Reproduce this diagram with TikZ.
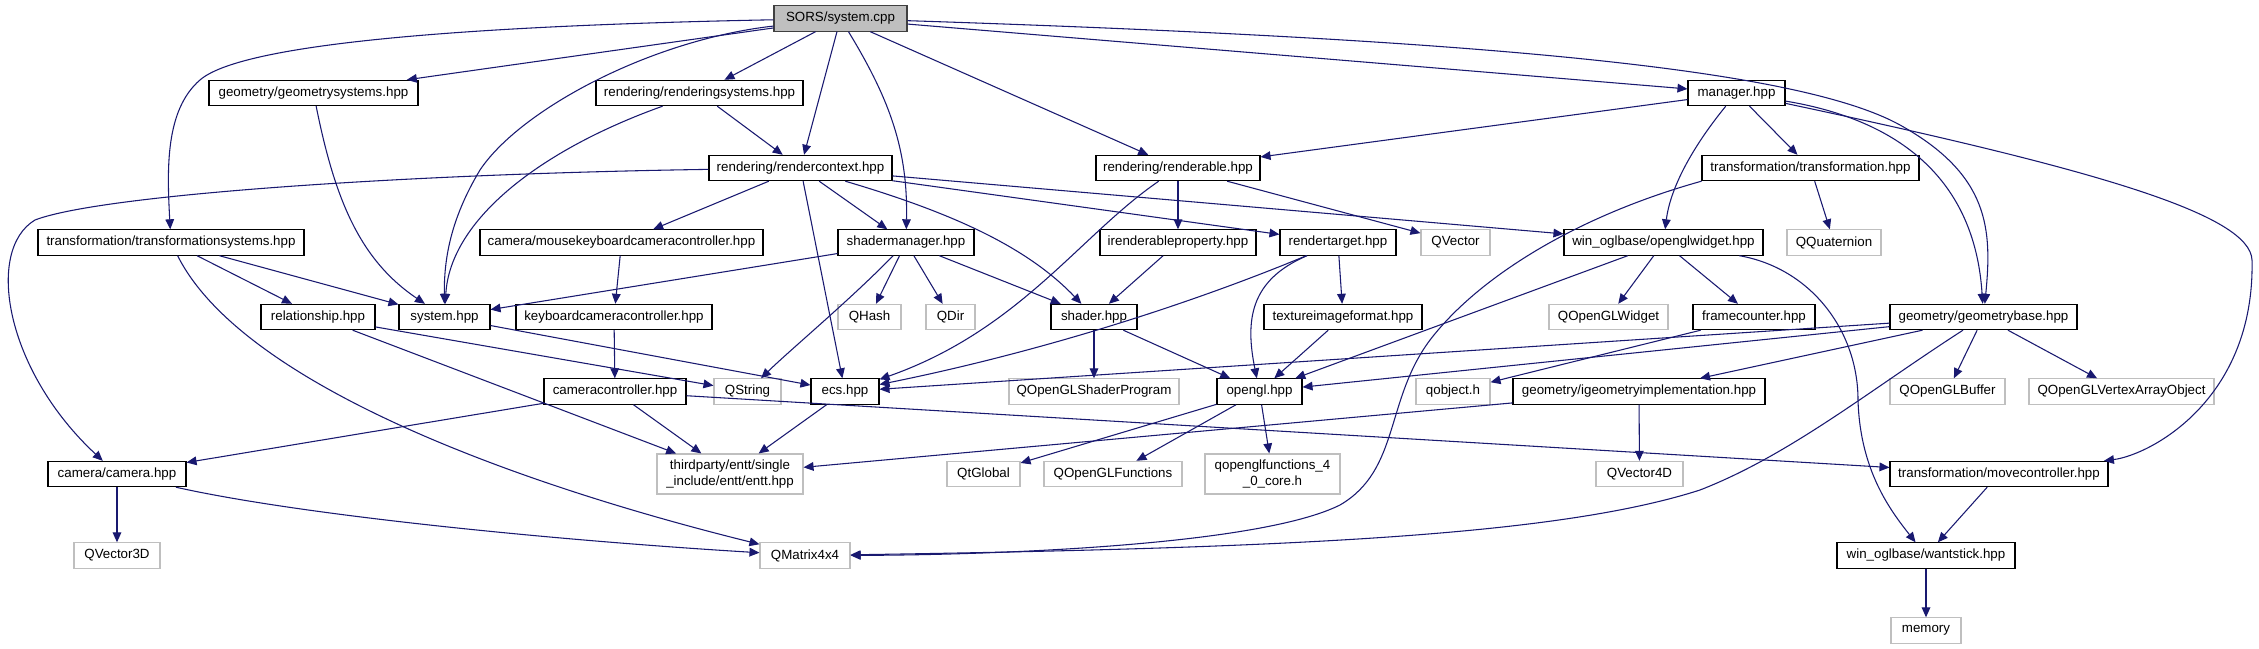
\documentclass[tikz,border=0pt]{standalone}
\usepackage{fontspec}
\setmainfont{Liberation Sans}
\usetikzlibrary{arrows.meta}
\definecolor{edgeblue}{HTML}{191970}
\definecolor{extgray}{HTML}{BFBFBF}
\tikzset{
  hfile/.style={draw=black, line width=0.8pt, inner sep=0pt, minimum height=19pt,
    font=\fontsize{10}{12}\selectfont, align=center},
  extfile/.style={hfile, draw=extgray},
  rootfile/.style={hfile, fill=extgray, draw=black!75},
  wd/.style={minimum width=#1*0.75pt},
  dep/.style={draw=edgeblue, line width=0.8pt, -{Triangle[length=7.5pt,width=6.5pt]}},
}
\begin{document}
\begin{tikzpicture}[x=0.75pt,y=-0.75pt]
    \fill[white] (0,0) rectangle (2259,649);
    \useasboundingbox (0,0) rectangle (2259,649);

    \node[rootfile, wd=133] (root) at (840.5,18.5) {SORS/system.cpp};
    \node[hfile, wd=209] (geomsys) at (313.5,93) {geometry/geometrysystems.hpp};
    \node[hfile, wd=207] (rendsys) at (699.5,93) {rendering/renderingsystems.hpp};
    \node[hfile, wd=97] (manager) at (1736.5,93) {manager.hpp};
    \node[hfile, wd=183] (rendctx) at (800.5,168) {rendering/rendercontext.hpp};
    \node[hfile, wd=164] (renderable) at (1178,168) {rendering/renderable.hpp};
    \node[hfile, wd=217] (transform) at (1810.5,168) {transformation/transformation.hpp};
    \node[hfile, wd=266] (transsys) at (171,242.5) {transformation/transformationsystems.hpp};
    \node[hfile, wd=283] (mousekbctl) at (621.5,242.5) {camera/mousekeyboardcameracontroller.hpp};
    \node[hfile, wd=136] (shadermgr) at (906,242.5) {shadermanager.hpp};
    \node[hfile, wd=156] (irendprop) at (1178,242.5) {irenderableproperty.hpp};
    \node[hfile, wd=116] (rendtarget) at (1338,242.5) {rendertarget.hpp};
    \node[hfile, wd=199] (oglwidget) at (1663.5,242.5) {win\_oglbase/openglwidget.hpp};
    \node[hfile, wd=114] (relationship) at (318,317) {relationship.hpp};
    \node[hfile, wd=91] (systemhpp) at (444.5,317) {system.hpp};
    \node[hfile, wd=196] (kbctl) at (614,317) {keyboardcameracontroller.hpp};
    \node[hfile, wd=86] (shader) at (1094,317) {shader.hpp};
    \node[hfile, wd=158] (texfmt) at (1343,317) {textureimageformat.hpp};
    \node[hfile, wd=122] (framecounter) at (1754,317) {framecounter.hpp};
    \node[hfile, wd=187] (geombase) at (1983.5,317) {geometry/geometrybase.hpp};
    \node[hfile, wd=142] (camctl) at (615,391.5) {cameracontroller.hpp};
    \node[hfile, wd=68] (ecs) at (845,391.5) {ecs.hpp};
    \node[hfile, wd=85] (opengl) at (1259.5,391.5) {opengl.hpp};
    \node[hfile, wd=252] (igeomimpl) at (1639,391.5) {geometry/igeometryimplementation.hpp};
    \node[hfile, wd=138] (camera) at (117,474) {camera/camera.hpp};
    \node[hfile, wd=218] (movectl) at (1999,474) {transformation/movecontroller.hpp};
    \node[hfile, wd=178] (wantstick) at (1926,555.5) {win\_oglbase/wantstick.hpp};

    % external headers
    \foreach \n/\t/\x/\y/\w in {qvector/QVector/1455.5/242.5/69, qquat/QQuaternion/1834/242.5/94,
        qhash/QHash/869.5/317/63, qdir/QDir/950.5/317/49, qoglwidget/QOpenGLWidget/1608.5/317/119,
        qstring/QString/747.5/391.5/67, qshaderprog/QOpenGLShaderProgram/1094/391.5/170,
        qobject/qobject.h/1453/391.5/74, qoglbuffer/QOpenGLBuffer/1947.5/391.5/115,
        qvao/QOpenGLVertexArrayObject/2121.5/391.5/185, qtglobal/QtGlobal/983.5/474/73,
        qoglfuncs/QOpenGLFunctions/1113/474/138, qvector4d/QVector4D/1639.5/474/87,
        qvector3d/QVector3D/117/555.5/86, qmatrix/QMatrix4x4/805/555.5/90, memory/memory/1926/630.5/70}
        {\node[extfile, wd=\w] (\n) at (\x,\y) {\t};}
    \node[extfile, wd=146, minimum height=30pt] (entt) at (730,474) {thirdparty/entt/single\\\_include/entt/entt.hpp};
    \node[extfile, wd=135, minimum height=30pt] (qoglfuncs40) at (1272.5,474) {qopenglfunctions\_4\\\_0\_core.h};

    \foreach \a/\b in {root/geomsys, root/rendsys, root/rendctx, root/renderable, root/manager,
        rendsys/rendctx, manager/renderable, manager/transform,
        rendctx/mousekbctl, rendctx/shadermgr, rendctx/ecs, rendctx/rendtarget, rendctx/oglwidget,
        transsys/relationship, transsys/systemhpp, mousekbctl/kbctl, kbctl/camctl,
        renderable/irendprop, renderable/qvector, transform/qquat,
        shadermgr/systemhpp, shadermgr/qhash, shadermgr/qdir, shadermgr/shader,
        irendprop/shader, rendtarget/texfmt,
        oglwidget/qoglwidget, oglwidget/framecounter, oglwidget/opengl,
        relationship/qstring, relationship/entt, systemhpp/ecs,
        shader/qshaderprog, shader/opengl, texfmt/opengl, framecounter/qobject,
        geombase/ecs, geombase/opengl, geombase/igeomimpl, geombase/qoglbuffer, geombase/qvao,
        camctl/camera, camctl/entt, camctl/movectl, ecs/entt,
        opengl/qtglobal, opengl/qoglfuncs, opengl/qoglfuncs40,
        igeomimpl/entt, igeomimpl/qvector4d, camera/qvector3d,
        movectl/wantstick, wantstick/memory}
        {\draw[dep] (\a) -- (\b);}

    \draw[dep] (root) .. controls (450,26) and (240,45) .. (200,80) .. controls (165,110) and (167,170) .. (transsys);
    \draw[dep] (root) .. controls (650,40) and (520,110) .. (480,170) .. controls (450,220) and (444,260) .. (systemhpp);
    \draw[dep] (root) .. controls (890,100) and (908,150) .. (shadermgr);
    \draw[dep] (root) .. controls (1500,40) and (1800,70) .. (1900,125) .. controls (1990,175) and (1992,230) .. (geombase);
    \draw[dep] (geomsys) .. controls (335,200) and (360,260) .. (systemhpp);
    \draw[dep] (rendsys) .. controls (540,150) and (450,220) .. (systemhpp);
    \draw[dep] (rendctx) .. controls (400,174) and (100,195) .. (35,220) .. controls (-15,250) and (5,370) .. (camera);
    \draw[dep] (rendctx) .. controls (960,215) and (1030,250) .. (shader);
    \draw[dep] (manager) .. controls (1690,150) and (1670,190) .. (oglwidget);
    \draw[dep] (manager) .. controls (1900,120) and (1975,180) .. (geombase);
    \draw[dep] (manager) .. controls (2100,170) and (2250,215) .. (2252,260) .. controls (2255,400) and (2150,455) .. (movectl);
    \draw[dep] (transsys) .. controls (240,380) and (500,480) .. (qmatrix);
    \draw[dep] (shadermgr) .. controls (850,300) and (790,350) .. (qstring);
    \draw[dep] (renderable) .. controls (1080,235) and (1020,330) .. (ecs);
    \draw[dep] (rendtarget) .. controls (1200,300) and (1050,350) .. (ecs);
    \draw[dep] (rendtarget) .. controls (1250,280) and (1245,320) .. (opengl);
    \draw[dep] (transform.south west) .. controls (1580,215) and (1480,275) .. (1430,340) .. controls (1385,400) and (1400,470) .. (1340,505) .. controls (1260,545) and (1000,555) .. (qmatrix);
    \draw[dep] (geombase) .. controls (1870,390) and (1790,455) .. (1700,490) .. controls (1560,535) and (1300,548) .. (qmatrix);
    \draw[dep] (camera) .. controls (300,515) and (550,540) .. (qmatrix);
    \draw[dep] (oglwidget) .. controls (1810,268) and (1858,330) .. (1858,400) .. controls (1860,470) and (1890,510) .. (wantstick);
\end{tikzpicture}
\end{document}
